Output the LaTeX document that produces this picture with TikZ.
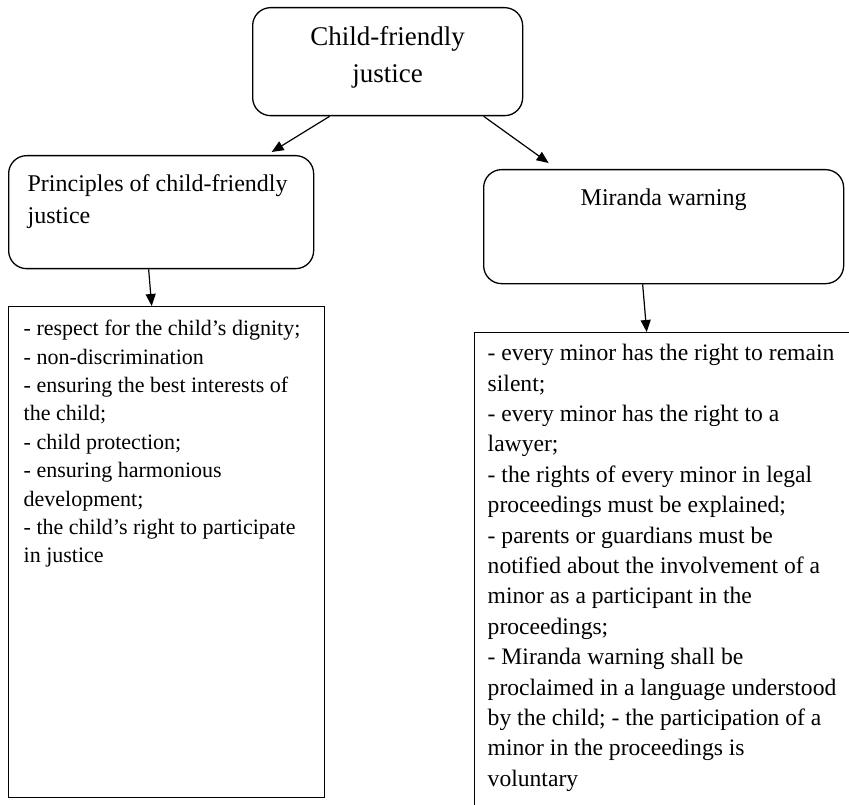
\documentclass[tikz,border=0pt]{standalone}
\usepackage{fontspec}
\setmainfont{Liberation Serif}
\usetikzlibrary{arrows.meta}
\tikzset{
  x=1pt, y=-1pt,
  rbox/.style={draw, line width=1.3pt, rounded corners=18pt, inner ysep=0pt, anchor=north west},
  lbox/.style={draw, line width=1.4pt, inner ysep=0pt, anchor=north west},
  conn/.style={line width=1.2pt, -{Triangle[length=12pt,width=10pt]}}
}
\begin{document}
\begin{tikzpicture}
\useasboundingbox (0,0) rectangle (849,805);
\clip (0,0) rectangle (849,805);
\fill[white] (0,0) rectangle (849,805);
% top box
\node[rbox, inner xsep=0pt] (top) at (252,7)
  {\parbox[c][108pt][t]{270pt}{\fontsize{27pt}{37pt}\selectfont\centering\rule{0pt}{38pt}Child-friendly\\justice\par}};
% left heading box
\node[rbox, inner xsep=19pt] (prin) at (8,155)
  {\parbox[c][113pt][t]{267pt}{\fontsize{24pt}{32pt}\selectfont\raggedright\rule{0pt}{36pt}Principles of child-friendly\\justice\par}};
% right heading box
\node[rbox, inner xsep=0pt] (mir) at (483,169)
  {\parbox[c][114pt][t]{360pt}{\fontsize{24pt}{32pt}\selectfont\centering\rule{0pt}{36pt}Miranda warning\par}};
% left list
\node[lbox, inner xsep=15pt] (list1) at (8,306)
  {\parbox[c][491pt][t]{286pt}{\fontsize{22pt}{28.4pt}\selectfont\raggedright\rule{0pt}{29pt}- respect for the child’s dignity;\\
- non-discrimination\\
- ensuring the best interests of\\
the child;\\
- child protection;\\
- ensuring harmonious\\
development;\\
- the child’s right to participate\\
in justice\par}};
% right list (runs off the picture)
\node[lbox, inner xsep=13pt] (list2) at (474,332)
  {\parbox[c][500pt][t]{390pt}{\fontsize{23.6pt}{30.4pt}\selectfont\raggedright\rule{0pt}{28pt}- every minor has the right to remain\\
silent;\\
- every minor has the right to a\\
lawyer;\\
- the rights of every minor in legal\\
proceedings must be explained;\\
- parents or guardians must be\\
notified about the involvement of a\\
minor as a participant in the\\
proceedings;\\
- Miranda warning shall be\\
proclaimed in a language understood\\
by the child; - the participation of a\\
minor in the proceedings is\\
voluntary\par}};
% connectors
\draw[conn] ([xshift=-58pt]top.south) -- ([xshift=110.5pt,yshift=3pt]prin.north);
\draw[conn] ([xshift=96pt]top.south) -- ([xshift=-115pt,yshift=6pt]mir.north);
\draw[conn] ([xshift=-12.5pt]prin.south) -- ([xshift=-15pt]list1.north);
\draw[conn] ([xshift=-21pt]mir.south) -- ([xshift=-36pt]list2.north);
\end{tikzpicture}
\end{document}
